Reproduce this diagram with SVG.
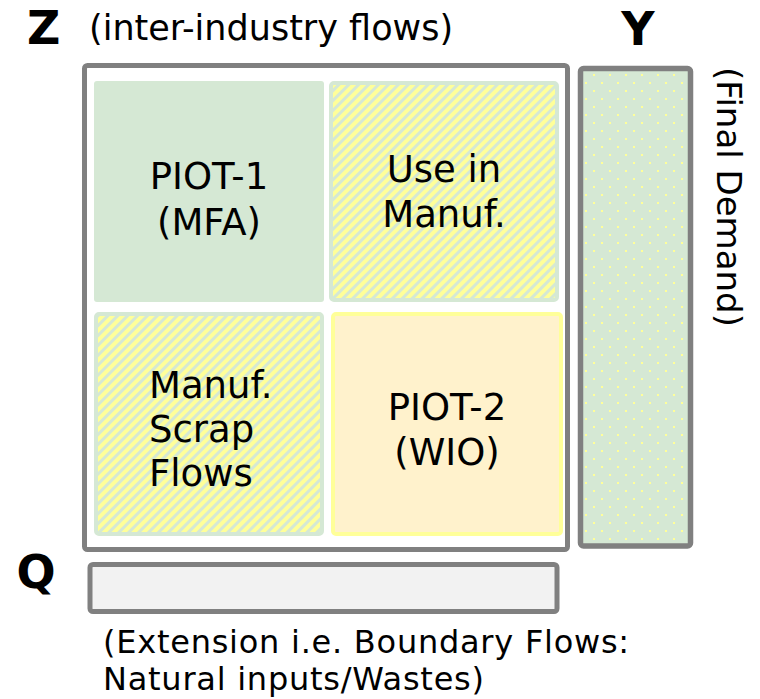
<svg xmlns="http://www.w3.org/2000/svg" width="760" height="699" viewBox="0 0 760 699">
  <defs>
    <!-- diagonal hatching: yellow bands over green -->
    <pattern id="hatch" patternUnits="userSpaceOnUse" width="7" height="7" patternTransform="rotate(45)">
      <rect width="7" height="7" fill="#d5e8d4"/>
      <rect width="4.2" height="7" fill="#ffff99" shape-rendering="crispEdges"/>
    </pattern>
    <!-- staggered dot grid -->
    <pattern id="dots" patternUnits="userSpaceOnUse" width="16" height="16">
      <rect width="16" height="16" fill="#d5e8d4"/>
      <rect x="9" y="2" width="2" height="2" fill="#ffff99"/>
      <rect x="1" y="10" width="2" height="2" fill="#ffff99"/>
    </pattern>
  </defs>
  <style>
    text { font-family: "DejaVu Sans", Verdana, sans-serif; fill: #000; }
    .big { font-size: 46px; font-weight: bold; }
    .lbl { font-size: 35px; }
    .cell { font-size: 37px; text-anchor: middle; }
    .note { font-size: 32px; letter-spacing: 0.75px; }
    .frame { stroke: #808080; stroke-width: 5; }
    .solid { fill: #d5e8d4; }
    .hatched { fill: url(#hatch); stroke: #d5e8d4; stroke-width: 4; }
    .wio { fill: #fff2cc; stroke: #ffff99; stroke-width: 4; }
  </style>

  <!-- headings -->
  <text class="big" x="27" y="44">Z</text>
  <text class="lbl" x="89" y="40">(inter-industry flows)</text>
  <text class="big" x="638" y="45" text-anchor="middle">Y</text>
  <text class="big" x="36" y="588" text-anchor="middle">Q</text>

  <!-- Z: inter-industry block -->
  <g id="z-block">
    <rect x="84.5" y="65.5" width="483" height="484" rx="3" class="frame" style="fill:#ffffff"/>
  </g>

  <g id="piot-1">
    <rect x="94" y="81" width="230" height="221" rx="3" class="solid"/>
    <text class="cell" x="209" y="189">PIOT-1</text>
    <text class="cell" x="209" y="235">(MFA)</text>
  </g>

  <g id="use-in-manuf">
    <rect x="331" y="83" width="226" height="217" rx="3" class="hatched"/>
    <text class="cell" x="444" y="182">Use in</text>
    <text class="cell" x="444" y="227">Manuf.</text>
  </g>

  <g id="manuf-scrap">
    <rect x="96" y="314" width="226" height="220" rx="3" class="hatched"/>
    <text class="cell" x="149" y="398" style="text-anchor:start">Manuf.</text>
    <text class="cell" x="149" y="442" style="text-anchor:start">Scrap</text>
    <text class="cell" x="149" y="486" style="text-anchor:start">Flows</text>
  </g>

  <g id="piot-2">
    <rect x="333" y="314" width="228" height="220" rx="3" class="wio"/>
    <text class="cell" x="447" y="420">PIOT-2</text>
    <text class="cell" x="447" y="465">(WIO)</text>
  </g>

  <!-- Y: final demand column -->
  <g id="y-block">
    <rect x="580.5" y="68.5" width="110" height="477.5" rx="3" class="frame" style="fill:url(#dots);stroke-width:5.5"/>
    <text class="lbl" style="font-size:34px" text-anchor="middle" transform="translate(717,197) rotate(90)">(Final Demand)</text>
  </g>

  <!-- Q: extension row -->
  <g id="q-block">
    <rect x="90" y="564.5" width="467" height="47" rx="3" class="frame" style="fill:#f2f2f2"/>
    <text class="note" x="103" y="653">(Extension i.e. Boundary Flows:</text>
    <text class="note" x="103" y="690">Natural inputs/Wastes)</text>
  </g>

  <g id="connectors"/>
</svg>
